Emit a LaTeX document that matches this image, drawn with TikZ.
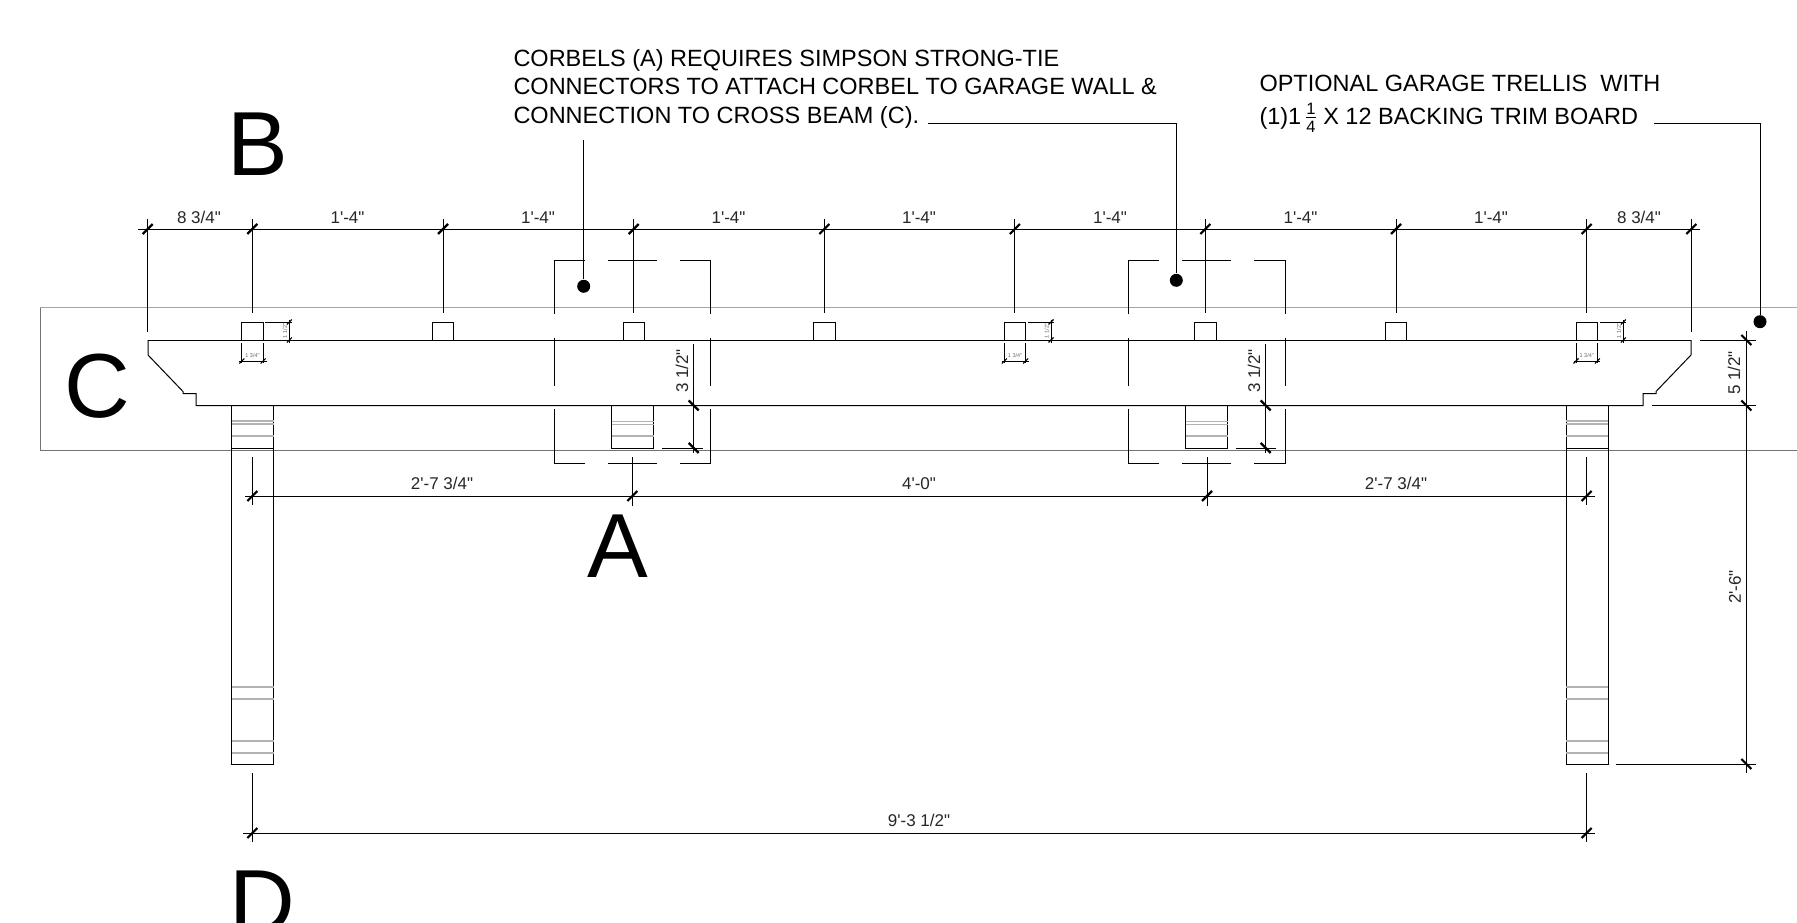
\documentclass[tikz,border=0pt]{standalone}
\usepackage{amsmath}
\usepackage{fontspec}
\setmainfont{Liberation Sans}[Ligatures=TeXOff]
\tikzset{
  dimtick/.style={line width=2.2pt},
  minitick/.style={line width=1.1pt},
  thinline/.style={line width=1pt},
  greyline/.style={line width=1.2pt,black!30},
  dimtext/.style={inner sep=0pt,font=\fontsize{17}{18}\selectfont,text=black!85},
  minitext/.style={inner sep=0pt,font=\fontsize{5.5}{6}\selectfont,text=black!60},
  bigletter/.style={inner sep=0pt,font=\fontsize{91}{91}\selectfont},
  notetext/.style={inner sep=0pt,anchor=north west,align=left,font=\fontsize{23.5}{28.3}\selectfont},
  leaderdot/.style={circle,fill=black,inner sep=0pt,minimum size=13pt}
}
\begin{document}
\begin{tikzpicture}[x=1pt,y=-1pt,thinline]
    \useasboundingbox (0,0) rectangle (1797,923);

    % Grey band
    \draw[black!35,line width=1pt] (1797,307.5) -- (40,307.5);
    \draw[black!55,line width=0.8pt] (40,307.5) -- (40,450.5) -- (1797,450.5);

    % Beam
    \draw (148,340) -- (1691,340);
    \draw (148,340) -- (148,355) -- (183,391.5) -- (183,393.5) -- (196,393.5) -- (196,405.5) -- (1643,405.5) -- (1643,393.5) -- (1656,393.5) -- (1656,391.5) -- (1691,355) -- (1691,340);
    \draw (1700,340) -- (1756,340);
    \draw (1652,405.5) -- (1756,405.5);

    % Rafter squares
    \draw (241.8,340) rectangle (263.2,322);
    \draw (432.3,340) rectangle (453.7,322);
    \draw (623,340) rectangle (644.4,322);
    \draw (813.8,340) rectangle (835.2,322);
    \draw (1004.3,340) rectangle (1025.7,322);
    \draw (1194.8,340) rectangle (1216.2,322);
    \draw (1385.3,340) rectangle (1406.7,322);
    \draw (1576,340) rectangle (1597.4,322);

    % Posts
    \draw (231.5,405.5) rectangle (273.5,764.5);
    \draw (231.5,448) -- (273.5,448);
    \draw[greyline] (231.5,421) -- (273.5,421);
    \draw[greyline] (231.5,424) -- (273.5,424);
    \draw[greyline] (231.5,436) -- (273.5,436);
    \draw[greyline] (231.5,687) -- (273.5,687);
    \draw[greyline] (231.5,699) -- (273.5,699);
    \draw[greyline] (231.5,741) -- (273.5,741);
    \draw[greyline] (231.5,753) -- (273.5,753);
    \draw (1566,405.5) rectangle (1608,764.5);
    \draw (1566,448) -- (1608,448);
    \draw[greyline] (1566,421) -- (1608,421);
    \draw[greyline] (1566,424) -- (1608,424);
    \draw[greyline] (1566,436) -- (1608,436);
    \draw[greyline] (1566,687) -- (1608,687);
    \draw[greyline] (1566,699) -- (1608,699);
    \draw[greyline] (1566,741) -- (1608,741);
    \draw[greyline] (1566,753) -- (1608,753);

    % Corbels
    \draw (611.5,405.5) rectangle (653.5,448);
    \draw[greyline] (611.5,421.5) -- (653.5,421.5);
    \draw[greyline] (611.5,424.5) -- (653.5,424.5);
    \draw[greyline] (611.5,436) -- (653.5,436);
    \draw (1185.5,405.5) rectangle (1227.5,448);
    \draw[greyline] (1185.5,421.5) -- (1227.5,421.5);
    \draw[greyline] (1185.5,424.5) -- (1227.5,424.5);
    \draw[greyline] (1185.5,436) -- (1227.5,436);

    % Broken boxes round corbels
    \draw (554.3,314) -- (554.3,260.5) -- (585,260.5);
    \draw (608,260.5) -- (657,260.5);
    \draw (680,260.5) -- (710.3,260.5) -- (710.3,314);
    \draw (554.3,338) -- (554.3,386);
    \draw (710.3,338) -- (710.3,386);
    \draw (554.3,409) -- (554.3,463) -- (585,463);
    \draw (608,463) -- (657,463);
    \draw (680,463) -- (710.3,463) -- (710.3,409);
    \draw (1128.3,314) -- (1128.3,260.5) -- (1159.3,260.5);
    \draw (1182,260.5) -- (1230.7,260.5);
    \draw (1254.3,260.5) -- (1285,260.5) -- (1285,314);
    \draw (1128.3,338) -- (1128.3,386);
    \draw (1285,338) -- (1285,386);
    \draw (1128.3,409) -- (1128.3,463) -- (1159.3,463);
    \draw (1182,463) -- (1230.7,463);
    \draw (1254.3,463) -- (1285,463) -- (1285,409);

    % Top dimension
    \draw (138,229) -- (1700,229);
    \draw (147.7,219) -- (147.7,332);
    \draw (252.3,219) -- (252.3,313);
    \draw (443,219) -- (443,313);
    \draw (633.7,219) -- (633.7,313);
    \draw (824.3,219) -- (824.3,313);
    \draw (1014.8,219) -- (1014.8,313);
    \draw (1205.3,219) -- (1205.3,313);
    \draw (1396,219) -- (1396,313);
    \draw (1586.6,219) -- (1586.6,313);
    \draw (1691.3,219) -- (1691.3,332);
    \draw[dimtick] (142.7,234) -- (152.7,224);
    \draw[dimtick] (247.3,234) -- (257.3,224);
    \draw[dimtick] (438,234) -- (448,224);
    \draw[dimtick] (628.7,234) -- (638.7,224);
    \draw[dimtick] (819.3,234) -- (829.3,224);
    \draw[dimtick] (1009.8,234) -- (1019.8,224);
    \draw[dimtick] (1200.3,234) -- (1210.3,224);
    \draw[dimtick] (1391,234) -- (1401,224);
    \draw[dimtick] (1581.6,234) -- (1591.6,224);
    \draw[dimtick] (1686.3,234) -- (1696.3,224);
    \node[dimtext] (topa) at (199,217) {8 3/4"};
    \node[dimtext] (topb) at (347.5,218) {1'-4"};
    \node[dimtext] (topc) at (538,218) {1'-4"};
    \node[dimtext] (topd) at (728.5,218) {1'-4"};
    \node[dimtext] (tope) at (919,218) {1'-4"};
    \node[dimtext] (topf) at (1110,218) {1'-4"};
    \node[dimtext] (topg) at (1300.5,218) {1'-4"};
    \node[dimtext] (toph) at (1491,218) {1'-4"};
    \node[dimtext] (topi) at (1639,217) {8 3/4"};

    % Lower dimension
    \draw (245,496) -- (1595,496);
    \draw (252.3,457) -- (252.3,505);
    \draw (632.3,457) -- (632.3,506);
    \draw (1207,457) -- (1207,506);
    \draw (1586.6,457) -- (1586.6,505);
    \draw[dimtick] (247.3,501) -- (257.3,491);
    \draw[dimtick] (627.3,501) -- (637.3,491);
    \draw[dimtick] (1202,501) -- (1212,491);
    \draw[dimtick] (1581.6,501) -- (1591.6,491);
    \node[dimtext] (lowa) at (442,483) {2'-7 3/4"};
    \node[dimtext] (lowb) at (919,484) {4'-0"};
    \node[dimtext] (lowc) at (1396,483) {2'-7 3/4"};

    % Bottom dimension
    \draw (243,833) -- (1595,833);
    \draw (252.3,773) -- (252.3,842);
    \draw (1586.6,773) -- (1586.6,842);
    \draw[dimtick] (247.3,838) -- (257.3,828);
    \draw[dimtick] (1581.6,838) -- (1591.6,828);
    \node[dimtext] (spana) at (919,820) {9'-3 1/2"};

    % Right dimension
    \draw (1746.3,331) -- (1746.3,773);
    \draw (1616,764) -- (1756,764);
    \draw[dimtick] (1741.3,335) -- (1751.3,345);
    \draw[dimtick] (1741.3,400.5) -- (1751.3,410.5);
    \draw[dimtick] (1741.3,759) -- (1751.3,769);
    \node[dimtext,rotate=90] (sidea) at (1734,373) {5 1/2"};
    \node[dimtext,rotate=90] (sideb) at (1735,587) {2'-6"};

    % Corbel dimensions
    \draw (693.7,344) -- (693.7,453);
    \draw (662,448) -- (703,448);
    \draw[dimtick] (688.7,400.5) -- (698.7,410.5);
    \draw[dimtick] (688.7,443) -- (698.7,453);
    \node[dimtext,rotate=90] (corba) at (682,371) {3 1/2"};
    \draw (1265.7,344) -- (1265.7,453);
    \draw (1236,448) -- (1276,448);
    \draw[dimtick] (1260.7,400.5) -- (1270.7,410.5);
    \draw[dimtick] (1260.7,443) -- (1270.7,453);
    \node[dimtext,rotate=90] (corbb) at (1254,371) {3 1/2"};

    % Small rafter dimensions
    \draw (265,322) -- (292,322);
    \draw (265,340) -- (292,340);
    \draw (289.3,319.5) -- (289.3,342.5);
    \draw[minitick] (286.8,324.5) -- (291.8,319.5);
    \draw[minitick] (286.8,342.5) -- (291.8,337.5);
    \draw (241.8,343) -- (241.8,363);
    \draw (263.2,343) -- (263.2,363);
    \draw (238.5,361) -- (266.5,361);
    \draw[minitick] (239.3,363.5) -- (244.3,358.5);
    \draw[minitick] (260.7,363.5) -- (265.7,358.5);
    \node[minitext,rotate=90] (raftah) at (285,331) {1 1/2"};
    \node[minitext] (raftaw) at (252.5,355.5) {1 3/4"};

    \draw (1028,322) -- (1054,322);
    \draw (1028,340) -- (1054,340);
    \draw (1051,319.5) -- (1051,342.5);
    \draw[minitick] (1048.5,324.5) -- (1053.5,319.5);
    \draw[minitick] (1048.5,342.5) -- (1053.5,337.5);
    \draw (1004.3,343) -- (1004.3,363);
    \draw (1025.7,343) -- (1025.7,363);
    \draw (1001.5,361) -- (1028.5,361);
    \draw[minitick] (1001.8,363.5) -- (1006.8,358.5);
    \draw[minitick] (1023.2,363.5) -- (1028.2,358.5);
    \node[minitext,rotate=90] (raftbh) at (1046.7,331) {1 1/2"};
    \node[minitext] (raftbw) at (1015,355.5) {1 3/4"};

    \draw (1600,322) -- (1626,322);
    \draw (1600,340) -- (1626,340);
    \draw (1623.3,319.5) -- (1623.3,342.5);
    \draw[minitick] (1620.8,324.5) -- (1625.8,319.5);
    \draw[minitick] (1620.8,342.5) -- (1625.8,337.5);
    \draw (1576,343) -- (1576,363);
    \draw (1597.4,343) -- (1597.4,363);
    \draw (1573.5,361) -- (1600,361);
    \draw[minitick] (1573.5,363.5) -- (1578.5,358.5);
    \draw[minitick] (1594.9,363.5) -- (1599.9,358.5);
    \node[minitext,rotate=90] (raftch) at (1619,331) {1 1/2"};
    \node[minitext] (raftcw) at (1586.7,355.5) {1 3/4"};

    % Big letters
    \node[bigletter] (letb) at (258,144) {B};
    \node[bigletter] (leta) at (618,546) {A};
    \node[bigletter] (letc) at (97,386) {C};
    \node[bigletter,anchor=base west] (letd) at (228.5,933) {D};

    % Notes and leaders
    \node[notetext] (notea) at (513,49) {CORBELS (A) REQUIRES SIMPSON STRONG-TIE\\CONNECTORS TO ATTACH CORBEL TO GARAGE WALL \&\\CONNECTION TO CROSS BEAM (C).};
    \node[notetext] (noteb) at (1259,75) {OPTIONAL GARAGE TRELLIS\ \ WITH\\[4pt](1)1\,$\frac{\text{1}}{\text{4}}$ X 12 BACKING TRIM BOARD};
    \node[leaderdot] (dota) at (583.7,286.3) {};
    \node[leaderdot] (dotb) at (1176.3,280.3) {};
    \node[leaderdot] (dotc) at (1760,321.7) {};
    \coordinate (lineb) at (928,124);
    \coordinate (linec) at (1654,124);
    \coordinate (linea) at (583.7,140);
    \draw (linea) -- (dota);
    \draw (lineb) -| (dotb);
    \draw (linec) -| (dotc);
\end{tikzpicture}
\end{document}
